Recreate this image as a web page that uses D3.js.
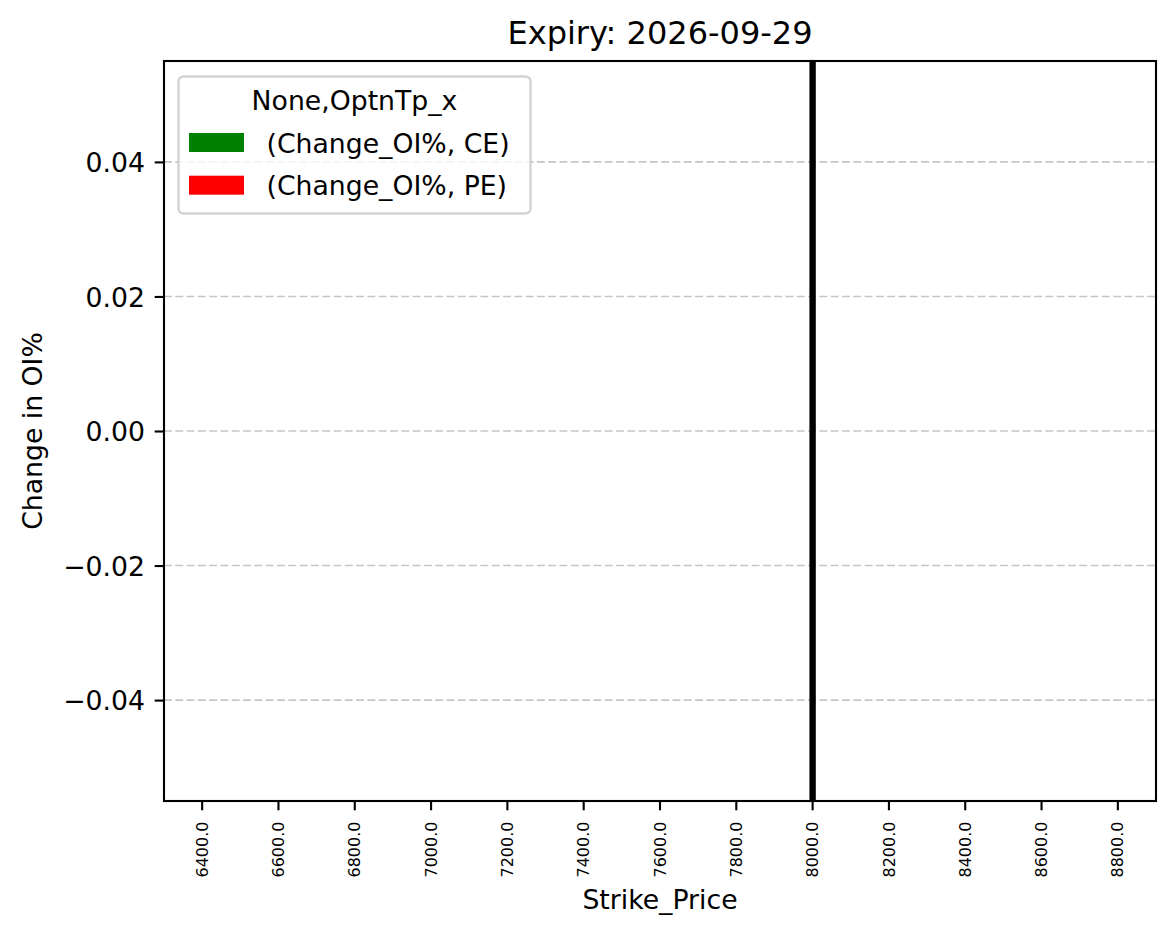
<!DOCTYPE html>
<html><head><meta charset="utf-8">
<script src="https://cdn.jsdelivr.net/npm/d3@7"></script>
<style>body{margin:0;background:#fff;}</style>
</head><body>
<svg id="chart" width="1175" height="939"></svg>
<script>
const strikes = [6400,6600,6800,7000,7200,7400,7600,7800,8000,8200,8400,8600,8800];
const ceValues = [0,0,0,0,0,0,0,0,0,0,0,0,0];
const peValues = [0,0,0,0,0,0,0,0,0,0,0,0,0];
const yTicks = [-0.04,-0.02,0.00,0.02,0.04];
const markerStrike = 8000;
const seriesNames = ["(Change_OI%, CE)","(Change_OI%, PE)"];
const seriesColors = ["#008000","#ff0000"];

const FF = "'DejaVu Sans', sans-serif";
const svg = d3.select("#chart");
const m = {left:164, right:1156, top:61, bottom:801};
const x = d3.scaleBand().domain(strikes).range([m.left, m.right]).paddingInner(0).paddingOuter(0);
const y = d3.scaleLinear().domain([-0.055, 0.055]).range([m.bottom, m.top]);

function T(sel, size){ return sel.style("font-family", FF).style("font-size", size+"px").attr("fill","#000"); }

// grid
svg.append("g").selectAll("line").data(yTicks).join("line")
  .attr("x1", m.left).attr("x2", m.right)
  .attr("y1", d=>y(d)).attr("y2", d=>y(d))
  .attr("stroke","#c6c6c6").attr("stroke-width",1.6).attr("stroke-dasharray","7.9,3.4");

// bars (zero height)
const bw = x.bandwidth()*0.25;
const g = svg.append("g");
g.selectAll(".ce").data(strikes).join("rect")
  .attr("x", d=>x(d)+x.bandwidth()*0.5 - bw).attr("width", bw)
  .attr("y", (d,i)=>Math.min(y(0), y(ceValues[i]))).attr("height",(d,i)=>Math.abs(y(0)-y(ceValues[i])))
  .attr("fill", seriesColors[0]);
g.selectAll(".pe").data(strikes).join("rect")
  .attr("x", d=>x(d)+x.bandwidth()*0.5).attr("width", bw)
  .attr("y", (d,i)=>Math.min(y(0), y(peValues[i]))).attr("height",(d,i)=>Math.abs(y(0)-y(peValues[i])))
  .attr("fill", seriesColors[1]);

// marker line
svg.append("line")
  .attr("x1", x(markerStrike)+x.bandwidth()/2).attr("x2", x(markerStrike)+x.bandwidth()/2)
  .attr("y1", m.top).attr("y2", m.bottom)
  .attr("stroke","#000").attr("stroke-width",6.4);

// axes
const xAxis = svg.append("g").attr("transform",`translate(0,${m.bottom})`)
  .call(d3.axisBottom(x).tickSize(9.3).tickSizeOuter(0).tickFormat(d=>d.toFixed(1)));
xAxis.select(".domain").remove();
xAxis.selectAll("line").attr("stroke","#000").attr("stroke-width",2.1);
T(xAxis.selectAll("text"), 16)
  .attr("transform","rotate(-90)").attr("text-anchor","end")
  .attr("x",-20.5).attr("y",0).attr("dy","0.35em");

const yAxis = svg.append("g").attr("transform",`translate(${m.left},0)`)
  .call(d3.axisLeft(y).tickValues(yTicks).tickSize(9.3).tickSizeOuter(0)
    .tickFormat(d=>{const s=Math.abs(d).toFixed(2); return d<-1e-9 ? "\u2212"+s : s;}));
yAxis.select(".domain").remove();
yAxis.selectAll("line").attr("stroke","#000").attr("stroke-width",2.1);
T(yAxis.selectAll("text"), 26.7).attr("x",-19).attr("dy","0.36em");

// frame
svg.append("rect").attr("x",m.left).attr("y",m.top).attr("width",m.right-m.left).attr("height",m.bottom-m.top)
  .attr("fill","none").attr("stroke","#000").attr("stroke-width",2.1);

// title & labels
T(svg.append("text"), 32).attr("x",(m.left+m.right)/2).attr("y",44).attr("text-anchor","middle")
  .text("Expiry: 2026-09-29");
T(svg.append("text"), 26.7).attr("x",(m.left+m.right)/2).attr("y",909).attr("text-anchor","middle")
  .text("Strike_Price");
T(svg.append("text"), 26.7).attr("transform",`translate(41.5,${(m.top+m.bottom)/2}) rotate(-90)`).attr("text-anchor","middle")
  .text("Change in OI%");

// legend
const lg = svg.append("g");
lg.append("rect").attr("x",178.5).attr("y",76.5).attr("width",352).attr("height",137).attr("rx",5)
  .attr("fill","#fff").attr("fill-opacity",0.8).attr("stroke","#d3d3d3").attr("stroke-width",2.4);
T(lg.append("text"), 26.7).attr("x",354.5).attr("y",110).attr("text-anchor","middle").text("None,OptnTp_x");
seriesNames.forEach((n,i)=>{
  lg.append("rect").attr("x",189).attr("y",133+i*42.7).attr("width",55).attr("height",19).attr("fill",seriesColors[i]);
  T(lg.append("text"), 26.7).attr("x",266.5).attr("y",152.5+i*42.7).text(n);
});
</script>
</body></html>
